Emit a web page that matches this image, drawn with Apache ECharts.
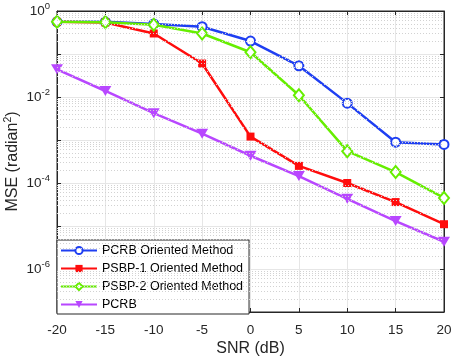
<!DOCTYPE html>
<html>
<head>
<meta charset="utf-8">
<script src="https://cdn.jsdelivr.net/npm/echarts@6/dist/echarts.min.js"></script>
<style>
  html, body { margin: 0; padding: 0; background: #fff; }
  #chart { width: 459px; height: 357px; }
</style>
</head>
<body>
<div id="chart"></div>
<script>
var snr = [-20, -15, -10, -5, 0, 5, 10, 15, 20];
var pcrbMethod = [0.56, 0.56, 0.5, 0.43, 0.2, 0.053, 0.0072, 0.00089, 0.00079];
var psbp1Method = [0.56, 0.54, 0.30, 0.06, 0.0012, 0.00025, 0.0001, 0.000036, 0.000011];
var psbp2Method = [0.56, 0.55, 0.48, 0.30, 0.11, 0.011, 0.00055, 0.00018, 0.000045];
var pcrbBound = [0.044, 0.0138, 0.0042, 0.0014, 0.00043, 0.000145, 0.000043, 0.000013, 0.0000043];
var seriesNames = ['PCRB Oriented Method', 'PSBP-1 Oriented Method', 'PSBP-2 Oriented Method', 'PCRB'];

function pairs(ys) {
  return snr.map(function (x, i) { return [x, ys[i]]; });
}

// dotted minor grid at 2..9 x 10^k, across the whole x range
var minorLines = [];
for (var k = -7; k < 0; k++) {
  for (var m = 2; m <= 9; m++) {
    var v = m * Math.pow(10, k);
    minorLines.push([{ coord: [-20, v] }, { coord: [20, v] }]);
  }
}

var axisColor = '#262626';
var font = 'Liberation Sans, Arial, sans-serif';

var chart = echarts.init(document.getElementById('chart'));

var option = {
  animation: false,
  grid: {
    left: 57, right: 15, top: 11, bottom: 45,
    outerBoundsMode: 'none',
    containLabel: false,
    show: true, borderColor: axisColor, borderWidth: 1
  },
  legend: {
    data: seriesNames,
    orient: 'vertical',
    left: 57,
    top: 240,
    backgroundColor: '#fff',
    borderColor: axisColor,
    borderWidth: 1,
    borderRadius: 0,
    padding: [4, 6, 3, 3],
    itemWidth: 36,
    itemHeight: 9,
    itemGap: 5,
    textStyle: { fontFamily: font, fontSize: 12.5, color: '#000' }
  },
  xAxis: [{
    type: 'value',
    min: -20, max: 20, interval: 5,
    name: 'SNR (dB)',
    nameLocation: 'middle',
    nameGap: 29,
    nameMoveOverlap: false,
    nameTextStyle: { fontFamily: font, fontSize: 16, color: axisColor },
    axisLine: { onZero: false, lineStyle: { color: axisColor } },
    axisTick: { inside: true, length: 4, lineStyle: { color: axisColor } },
    axisLabel: { fontFamily: font, fontSize: 13.5, color: axisColor, margin: 11 },
    splitLine: { lineStyle: { color: '#e6e6e6' } }
  }, {
    type: 'value', position: 'top',
    min: -20, max: 20, interval: 5,
    axisLine: { onZero: false, lineStyle: { color: axisColor } },
    axisTick: { inside: true, length: 4, lineStyle: { color: axisColor } },
    axisLabel: { show: false },
    splitLine: { show: false }
  }],
  yAxis: [{
    type: 'log',
    logBase: 10,
    min: 1e-7, max: 1,
    name: 'MSE (radian{sup|2})',
    nameLocation: 'middle',
    nameGap: 34,
    nameMoveOverlap: false,
    nameTextStyle: {
      fontFamily: font, fontSize: 16, color: axisColor,
      rich: { sup: { fontFamily: font, fontSize: 10.5, color: axisColor, padding: [0, 0, 9, 0] } }
    },
    axisLine: { show: true, onZero: false, lineStyle: { color: axisColor } },
    axisTick: { inside: true, length: 4, lineStyle: { color: axisColor } },
    axisLabel: {
      fontFamily: font, fontSize: 13.5, color: axisColor, margin: 7,
      formatter: function (val) {
        var e = Math.round(Math.log10(val));
        if (e % 2 !== 0) return '';
        return '10{sup|' + e + '}';
      },
      rich: { sup: { fontFamily: font, fontSize: 9.5, color: axisColor, padding: [0, 0, 9, 0] } }
    },
    splitLine: { lineStyle: { color: '#e6e6e6' } }
  }, {
    type: 'log',
    logBase: 10,
    min: 1e-7, max: 1,
    position: 'right',
    axisLine: { show: true, onZero: false, lineStyle: { color: axisColor } },
    axisTick: { inside: true, length: 4, lineStyle: { color: axisColor } },
    axisLabel: { show: false },
    splitLine: { show: false }
  }],
  series: [{
    name: 'minor-grid',
    type: 'line',
    data: [],
    z: 1,
    silent: true,
    markLine: {
      silent: true,
      symbol: 'none',
      label: { show: false },
      lineStyle: { color: '#d2d2d2', type: [1, 2], width: 1 },
      data: minorLines
    }
  }, {
    name: seriesNames[0],
    type: 'line',
    data: pairs(pcrbMethod),
    z: 4,
    symbol: 'emptyCircle',
    symbolSize: 9,
    color: '#1f3ff2',
    lineStyle: { width: 2.5 },
    itemStyle: { borderWidth: 2 }
  }, {
    name: seriesNames[1],
    type: 'line',
    data: pairs(psbp1Method),
    z: 4,
    symbol: 'rect',
    symbolSize: 8,
    color: '#ff0d0d',
    lineStyle: { width: 2.5 },
    itemStyle: { borderWidth: 2 }
  }, {
    name: seriesNames[2],
    type: 'line',
    data: pairs(psbp2Method),
    z: 4,
    symbol: 'emptyDiamond',
    symbolSize: [10, 12],
    color: '#66ee00',
    lineStyle: { width: 2.5 },
    itemStyle: { borderWidth: 2 }
  }, {
    name: seriesNames[3],
    type: 'line',
    data: pairs(pcrbBound),
    z: 4,
    symbol: 'triangle',
    symbolRotate: 180,
    symbolSize: [12, 10],
    color: '#b847ff',
    lineStyle: { width: 2.5 }
  }]
};

chart.setOption(option);
</script>
</body>
</html>
